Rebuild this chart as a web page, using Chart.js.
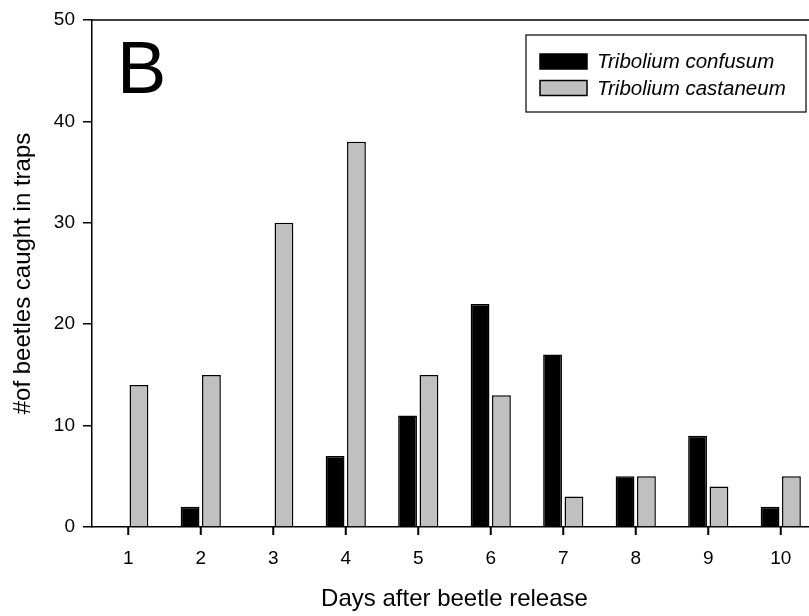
<!DOCTYPE html>
<html>
<head>
<meta charset="utf-8">
<script src="https://cdn.jsdelivr.net/npm/chart.js@4/dist/chart.umd.min.js"></script>
<style>
  html, body { margin: 0; padding: 0; background: #fff; overflow: hidden; }
  /* the plot runs past the right edge of the figure, like the original crop */
  #wrap { width: 830px; height: 616px; position: relative; }
</style>
</head>
<body>
<div id="wrap"><canvas id="beetleChart"></canvas></div>
<script>
// Beetles caught per day
const days = ['1', '2', '3', '4', '5', '6', '7', '8', '9', '10'];
const confusumCounts = [0, 2, 0, 7, 11, 22, 17, 5, 9, 2];
const castaneumCounts = [14, 15, 30, 38, 15, 13, 3, 5, 4, 5];
const yTicks = [0, 10, 20, 30, 40, 50];

const FONT = "'Liberation Sans', Arial, sans-serif";
Chart.defaults.font.family = FONT;
Chart.defaults.color = '#000';

// top frame line, centred x tick marks, panel letter and boxed legend
const frameAndLegend = {
  id: 'frameAndLegend',
  afterDraw: function(chart) {
    const ctx = chart.ctx;
    const area = chart.chartArea;
    const xScale = chart.scales.x;
    ctx.save();

    ctx.strokeStyle = '#000';
    ctx.lineWidth = 1.5;
    ctx.beginPath();
    ctx.moveTo(area.left, area.top);
    ctx.lineTo(area.right, area.top);
    ctx.stroke();

    // tick marks under each day
    ctx.fillStyle = '#000';
    for (let i = 0; i < days.length; i++) {
      const px = xScale.getPixelForTick(i);
      ctx.fillRect(px - 1, area.bottom, 2, 8);
    }

    // panel letter
    ctx.font = '74px ' + FONT;
    ctx.textBaseline = 'alphabetic';
    ctx.textAlign = 'left';
    ctx.fillText('B', area.left + 25, area.top + 73);

    // legend box
    const boxRight = area.right - 11;
    const boxW = 280, boxH = 77;
    const boxX = boxRight - boxW, boxY = area.top + 15;
    ctx.lineWidth = 1.2;
    ctx.strokeRect(boxX, boxY, boxW, boxH);

    ctx.font = 'italic 20.5px ' + FONT;
    ctx.textBaseline = 'middle';
    chart.data.datasets.forEach(function(ds, i) {
      const rowY = boxY + 26.5 + i * 26.5;
      ctx.fillStyle = ds.backgroundColor;
      ctx.fillRect(boxX + 14, rowY - 7.5, 47, 15);
      ctx.lineWidth = 1.5;
      ctx.strokeStyle = '#000';
      ctx.strokeRect(boxX + 14, rowY - 7.5, 47, 15);
      ctx.fillStyle = '#000';
      ctx.fillText(ds.label, boxX + 71, rowY + 1);
    });

    ctx.restore();
  }
};

new Chart(document.getElementById('beetleChart'), {
  type: 'bar',
  data: {
    labels: days,
    datasets: [
      {
        label: 'Tribolium confusum',
        data: confusumCounts,
        backgroundColor: '#000000',
        borderColor: '#000000',
        borderWidth: 1.5
      },
      {
        label: 'Tribolium castaneum',
        data: castaneumCounts,
        backgroundColor: '#c0c0c0',
        borderColor: '#000000',
        borderWidth: 1.5
      }
    ]
  },
  options: {
    responsive: true,
    maintainAspectRatio: false,
    animation: false,
    categoryPercentage: 0.59,
    barPercentage: 0.88,
    layout: {
      padding: { top: 20, right: 13, left: 0, bottom: 0 }
    },
    scales: {
      x: {
        grid: { display: false },
        border: { display: true, color: '#000', width: 1.5 },
        ticks: {
          font: { size: 19 },
          padding: 12,
          maxRotation: 0
        },
        title: {
          display: true,
          text: 'Days after beetle release',
          font: { size: 24 },
          padding: { top: 0, bottom: 2 }
        },
        afterFit: function(scale) {
          scale.height = 89;
        }
      },
      y: {
        min: 0,
        max: 50,
        grid: {
          display: true,
          drawOnChartArea: false,
          drawTicks: true,
          tickLength: 9,
          color: '#000',
          lineWidth: 1.5
        },
        border: { display: true, color: '#000', width: 1.5 },
        afterBuildTicks: function(scale) {
          scale.ticks = yTicks.map(function(v) { return { value: v }; });
        },
        ticks: {
          font: { size: 19 },
          padding: 8
        },
        title: {
          display: true,
          text: '#of beetles caught in traps',
          font: { size: 24 },
          padding: { top: 9, bottom: 0 }
        },
        afterFit: function(scale) {
          scale.width = 92;
        }
      }
    },
    plugins: {
      legend: { display: false },
      tooltip: { enabled: false }
    }
  },
  plugins: [frameAndLegend]
});
</script>
</body>
</html>
